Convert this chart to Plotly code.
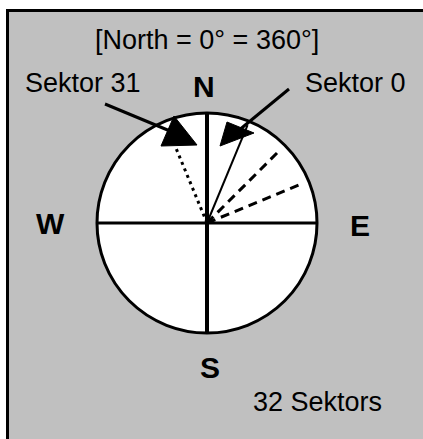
import math
import plotly.graph_objects as go

# ---------------- data ----------------
sector_count = 32
title_text = "[North = 0° = 360°]"
compass_labels = ["N", "E", "S", "W"]
compass_angles = [0, 90, 180, 270]
ray_angles = [22.5, 45, 67.5, 337.5]          # degrees clockwise from north
ray_kinds = ["solid", "dash", "dash", "dot"]
callout_labels = ["Sektor 0", "Sektor 31"]
footer_text = f"{sector_count} Sektors"

# ---------------- layout constants ----------------
W, H = 423, 439
CX, CY, R = 207, 223, 110
FONT = "Arial, Liberation Sans, sans-serif"
BG = "#c0c0c0"

ray_len = {22.5: 106, 45: 103, 67.5: 102, 337.5: 84}
ray_width = {"solid": 2, "dash": 3, "dot": 3}
ray_dash = {"solid": "solid", "dash": "9px,6px", "dot": "3px,4px"}

compass_pos = {"N": (204, 86), "E": (360, 225), "S": (210, 367), "W": (50, 223)}
callout_text_pos = {"Sektor 0": (355, 83), "Sektor 31": (83, 83)}
callout_line = {"Sektor 0": ((289, 89), (238, 131)),
                "Sektor 31": ((105, 104), (182, 136))}
callout_head = {"Sektor 0": [(220, 146), (227, 122), (254, 133)],
                "Sektor 31": [(174, 116), (161, 146), (197, 145)]}

fig = go.Figure()

# rays
for ang, kind in zip(ray_angles, ray_kinds):
    L = ray_len[ang]
    a = math.radians(ang)
    fig.add_trace(go.Scatter(
        x=[CX, CX + L * math.sin(a)], y=[CY, CY - L * math.cos(a)],
        mode="lines", line=dict(color="black", width=ray_width[kind], dash=ray_dash[kind]),
        hoverinfo="skip", showlegend=False))

# N-S and E-W axes of the compass
for ang in compass_angles:
    a = math.radians(ang)
    wdt = 4 if ang in (0, 180) else 3
    fig.add_trace(go.Scatter(
        x=[CX, CX + (R + 1) * math.sin(a)], y=[CY, CY - (R + 1) * math.cos(a)],
        mode="lines", line=dict(color="black", width=wdt),
        hoverinfo="skip", showlegend=False))

# callout lines and heads
for lab in callout_labels:
    (x0, y0), (x1, y1) = callout_line[lab]
    fig.add_trace(go.Scatter(x=[x0, x1], y=[y0, y1], mode="lines",
                             line=dict(color="black", width=3),
                             hoverinfo="skip", showlegend=False))
    pts = callout_head[lab]
    fig.add_trace(go.Scatter(x=[p[0] for p in pts] + [pts[0][0]],
                             y=[p[1] for p in pts] + [pts[0][1]],
                             mode="lines", fill="toself", fillcolor="black",
                             line=dict(color="black", width=1),
                             hoverinfo="skip", showlegend=False))

shapes = [
    dict(type="rect", x0=7.5, y0=10.5, x1=W + 60, y1=H + 60, xref="x", yref="y",
         fillcolor=BG, line=dict(width=0), layer="below"),
    dict(type="line", x0=7.5, y0=9, x1=W + 60, y1=9 + 1.5, xref="x", yref="y",
         line=dict(color="black", width=0), layer="below"),
    dict(type="rect", x0=6, y0=9, x1=W + 60, y1=12, xref="x", yref="y",
         fillcolor="black", line=dict(width=0), layer="below"),
    dict(type="rect", x0=6, y0=9, x1=9, y1=H + 60, xref="x", yref="y",
         fillcolor="black", line=dict(width=0), layer="below"),
    dict(type="circle", x0=CX - R, x1=CX + R, y0=CY - R, y1=CY + R, xref="x", yref="y",
         fillcolor="white", line=dict(color="black", width=3), layer="below"),
]

annotations = [dict(x=207, y=40, text=title_text, showarrow=False,
                    font=dict(size=27, color="black", family=FONT))]
for lab in compass_labels:
    x, y = compass_pos[lab]
    annotations.append(dict(x=x, y=y, text=f"<b>{lab}</b>", showarrow=False,
                            font=dict(size=30, color="black", family=FONT)))
for lab in callout_labels:
    x, y = callout_text_pos[lab]
    annotations.append(dict(x=x, y=y, text=lab, showarrow=False,
                            font=dict(size=27, color="black", family=FONT)))
annotations.append(dict(x=317, y=402, text=footer_text, showarrow=False,
                        font=dict(size=27, color="black", family=FONT)))

fig.update_layout(
    width=W, height=H, margin=dict(l=0, r=0, t=0, b=0),
    paper_bgcolor="white", plot_bgcolor="white",
    xaxis=dict(range=[0, W], visible=False, fixedrange=True),
    yaxis=dict(range=[H, 0], visible=False, fixedrange=True),
    shapes=shapes, annotations=annotations, showlegend=False,
)

fig.write_html("out.html", config={"displayModeBar": False},
               post_script="document.body.style.margin='0px';"
                           "document.body.style.overflow='hidden';")
